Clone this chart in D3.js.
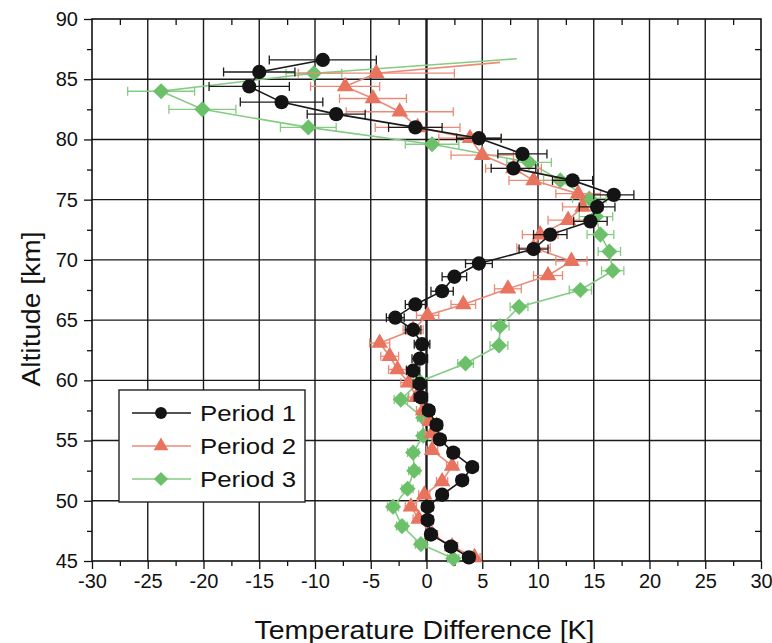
<!DOCTYPE html>
<html><head><meta charset="utf-8">
<script src="https://cdn.jsdelivr.net/npm/d3@7"></script>
<style>
html,body{margin:0;padding:0;background:#fff;}
text{font-family:"Liberation Sans",Arial,sans-serif;fill:#111;}
</style></head>
<body><svg id="c" width="772" height="643"></svg>
<script>
// ---- data ----
const xMajorTicks = [-30,-25,-20,-15,-10,-5,0,5,10,15,20,25,30];
const yMajorTicks = [45,50,55,60,65,70,75,80,85,90];
const seriesNames = ["Period 1","Period 2","Period 3"];

// Period 1 (black circles)
const p1Alt  = [86.6,85.6,84.4,83.1,82.1,81.0,80.1,78.8,77.6,76.6,75.4,74.4,73.2,72.1,70.9,69.7,68.6,67.4,66.3,65.2,64.2,63.0,61.8,60.8,59.7,58.6,57.5,56.3,55.1,54.0,52.8,51.7,50.5,49.5,48.4,47.2,46.2,45.3];
const p1Temp = [-9.3,-15.0,-15.9,-13.0,-8.1,-1.0,4.7,8.6,7.8,13.1,16.8,15.3,14.7,11.1,9.6,4.7,2.5,1.4,-1.0,-2.8,-1.2,-0.4,-0.6,-1.2,-0.6,-0.5,0.2,0.9,1.2,2.4,4.1,3.2,1.4,0.1,0.1,0.4,2.2,3.8];
const p1Err  = [4.8,3.2,3.6,3.7,2.6,2.4,2.0,2.2,2.0,1.8,1.8,1.6,1.5,1.5,1.3,1.2,1.1,1.0,0.9,0.8,0.7,0.7,0.7,0.6,0.6,0.6,0.5,0.5,0.5,0.5,0.5,0.5,0.5,0.5,0.5,0.5,0.5,0.5];

// Period 2 (red triangles); first point is the line end without marker
const p2Alt  = [86.4,85.5,84.4,83.4,82.3,81.0,80.1,78.7,77.6,76.6,75.5,74.4,73.3,72.1,71.0,69.9,68.7,67.6,66.3,65.4,64.2,63.1,62.0,60.9,59.8,58.6,57.5,56.6,55.6,54.2,52.9,51.6,50.5,49.5,48.5,47.2,46.2,45.3];
const p2Temp = [6.6,-4.5,-7.3,-4.8,-2.4,-0.8,3.9,5.0,7.8,9.6,13.6,14.0,12.7,10.2,9.6,13.0,10.9,7.3,3.3,0.1,-1.2,-4.2,-3.3,-2.6,-1.6,-0.9,-0.3,0.3,0.5,0.5,2.3,1.4,-0.2,-1.4,-0.7,0.5,2.3,4.3];
const p2Err  = [0,7.0,3.1,3.0,4.8,3.8,2.8,2.8,2.5,2.2,2.0,1.8,1.8,1.6,1.5,1.4,1.3,1.2,1.1,1.0,0.9,0.9,0.8,0.8,0.7,0.7,0.6,0.6,0.6,0.5,0.5,0.5,0.5,0.5,0.5,0.5,0.5,0.5];
const p2Mark = [0,1,1,1,1,1,1,1,1,1,1,1,1,1,1,1,1,1,1,1,1,1,1,1,1,1,1,1,1,1,1,1,1,1,1,1,1,1];

// Period 3 (green diamonds); first point is the line end without marker
const p3Alt  = [86.7,85.5,84.0,82.5,81.0,79.6,78.1,76.6,75.1,73.6,72.1,70.7,69.1,67.5,66.1,64.5,62.9,61.4,59.9,58.4,56.9,55.4,54.0,52.5,51.0,49.5,47.9,46.4,45.2];
const p3Temp = [8.1,-10.1,-23.8,-20.1,-10.6,0.5,9.2,12.0,14.6,15.2,15.6,16.4,16.7,13.8,8.3,6.6,6.5,3.5,-0.6,-2.3,-0.3,-0.3,-1.2,-1.1,-1.7,-3.0,-2.2,-0.5,2.4];
const p3Err  = [0,2.5,3.0,3.0,2.5,2.4,2.0,1.5,1.5,1.5,1.2,1.0,1.0,1.0,0.8,0.8,0.8,0.7,0.6,0.6,0.5,0.5,0.5,0.5,0.5,0.5,0.5,0.5,0.5];
const p3Mark = [0,1,1,1,1,1,1,1,1,1,1,1,1,1,1,1,1,1,1,1,1,1,1,1,1,1,1,1,1];

const colors = ["#141414","#e8735e","#6cc06a"];
const lineColors = ["#1a1a1a","#ec8a78","#84cc82"];

// ---- layout ----
const svg = d3.select("#c");
const L = 92, R = 761, T = 19, B = 561;
const x = d3.scaleLinear().domain([-30,30]).range([L,R]);
const y = d3.scaleLinear().domain([45,90]).range([B,T]);

const xMinor = d3.range(-27.5,30,5);
const yMinor = d3.range(47.5,90,5);

// gridlines
const grid = svg.append("g");
grid.selectAll(".gx").data(xMajorTicks.slice(1,-1)).join("line")
  .attr("x1",d=>x(d)).attr("x2",d=>x(d)).attr("y1",T).attr("y2",B)
  .attr("stroke","#1a1a1a").attr("stroke-width",d=>d===0?2.4:1.4);
grid.selectAll(".gy").data(yMajorTicks.slice(1,-1)).join("line")
  .attr("x1",L).attr("x2",R).attr("y1",d=>y(d)).attr("y2",d=>y(d))
  .attr("stroke","#1a1a1a").attr("stroke-width",1.4);

// axes
const fmt = d => String(d);
const ax = svg.append("g");
ax.append("g").attr("transform",`translate(0,${B})`)
  .call(d3.axisBottom(x).tickValues(xMajorTicks).tickSize(8).tickPadding(5).tickFormat(fmt));
ax.append("g").attr("transform",`translate(0,${B})`)
  .call(d3.axisBottom(x).tickValues(xMinor).tickSize(5).tickFormat(""));
ax.append("g").attr("transform",`translate(${L},0)`)
  .call(d3.axisLeft(y).tickValues(yMajorTicks).tickSize(8).tickPadding(6).tickFormat(fmt));
ax.append("g").attr("transform",`translate(${L},0)`)
  .call(d3.axisLeft(y).tickValues(yMinor).tickSize(5).tickFormat(""));
ax.append("g").attr("transform",`translate(0,${T})`)
  .call(d3.axisTop(x).tickValues(xMinor).tickSize(-6).tickFormat(""));
ax.append("g").attr("transform",`translate(${R},0)`)
  .call(d3.axisRight(y).tickValues(yMinor).tickSize(-6).tickFormat(""));
ax.selectAll(".domain").remove();
ax.selectAll("line").attr("stroke","#111").attr("stroke-width",1.3);
ax.selectAll("g").attr("font-size",null).attr("font-family",null);
ax.selectAll("text").attr("font-size",20).attr("font-family","Liberation Sans, Arial, sans-serif").attr("fill","#111");

// frame
svg.append("rect").attr("x",L).attr("y",T).attr("width",R-L).attr("height",B-T)
  .attr("fill","none").attr("stroke","#111").attr("stroke-width",1.6);

// axis titles
svg.append("text").attr("x",(L+R)/2-2).attr("y",639).attr("text-anchor","middle")
  .attr("font-size",25).attr("textLength",340).attr("lengthAdjust","spacingAndGlyphs")
  .text("Temperature Difference [K]");
svg.append("text").attr("transform","translate(40,309) rotate(-90)").attr("text-anchor","middle")
  .attr("font-size",26).attr("textLength",155).attr("lengthAdjust","spacingAndGlyphs")
  .text("Altitude [km]");

// series
const diamond = {draw(ctx,size){const r=Math.sqrt(size/2);ctx.moveTo(0,-r);ctx.lineTo(r,0);ctx.lineTo(0,r);ctx.lineTo(-r,0);ctx.closePath();}};
const series = [
  {alt:p3Alt,temp:p3Temp,err:p3Err,mark:p3Mark,idx:2,sym:diamond,size:130},
  {alt:p2Alt,temp:p2Temp,err:p2Err,mark:p2Mark,idx:1,sym:d3.symbolTriangle,size:120},
  {alt:p1Alt,temp:p1Temp,err:p1Err,mark:p1Alt.map(()=>1),idx:0,sym:d3.symbolCircle,size:160}
];
const line = d3.line().x(d=>x(d.t)).y(d=>y(d.a));
series.forEach(s=>{
  const pts = s.alt.map((a,i)=>({a, t:s.temp[i], e:s.err[i], m:s.mark[i]}));
  const g = svg.append("g");
  g.append("path").datum(pts).attr("d",line).attr("fill","none")
    .attr("stroke",lineColors[s.idx]).attr("stroke-width",1.6);
  const eb = g.selectAll(".eb").data(pts.filter(d=>d.e>0)).join("g")
    .attr("stroke",lineColors[s.idx]).attr("stroke-width",1.3);
  eb.append("line").attr("x1",d=>x(d.t-d.e)).attr("x2",d=>x(d.t+d.e)).attr("y1",d=>y(d.a)).attr("y2",d=>y(d.a));
  eb.append("line").attr("x1",d=>x(d.t-d.e)).attr("x2",d=>x(d.t-d.e)).attr("y1",d=>y(d.a)-4.5).attr("y2",d=>y(d.a)+4.5);
  eb.append("line").attr("x1",d=>x(d.t+d.e)).attr("x2",d=>x(d.t+d.e)).attr("y1",d=>y(d.a)-4.5).attr("y2",d=>y(d.a)+4.5);
  g.selectAll(".mk").data(pts.filter(d=>d.m)).join("path")
    .attr("d",d3.symbol().type(s.sym).size(s.size))
    .attr("transform",d=>`translate(${x(d.t)},${y(d.a)})`)
    .attr("fill",colors[s.idx]);
});

// legend
const lg = svg.append("g");
lg.append("rect").attr("x",119).attr("y",390).attr("width",186).attr("height",112)
  .attr("fill","#fff").attr("stroke","#222").attr("stroke-width",1.4);
const legSyms = [d3.symbolCircle,d3.symbolTriangle,diamond];
const legSizes = [110,95,100];
seriesNames.forEach((n,i)=>{
  const cy = 413 + i*33;
  lg.append("line").attr("x1",132).attr("x2",191).attr("y1",cy).attr("y2",cy)
    .attr("stroke",lineColors[i]).attr("stroke-width",1.5);
  lg.append("path").attr("d",d3.symbol().type(legSyms[i]).size(legSizes[i])())
    .attr("transform",`translate(161,${cy})`).attr("fill",colors[i]);
  lg.append("text").attr("x",200).attr("y",cy+8).attr("font-size",22)
    .attr("textLength",96).attr("lengthAdjust","spacingAndGlyphs").text(n);
});
</script></body></html>
